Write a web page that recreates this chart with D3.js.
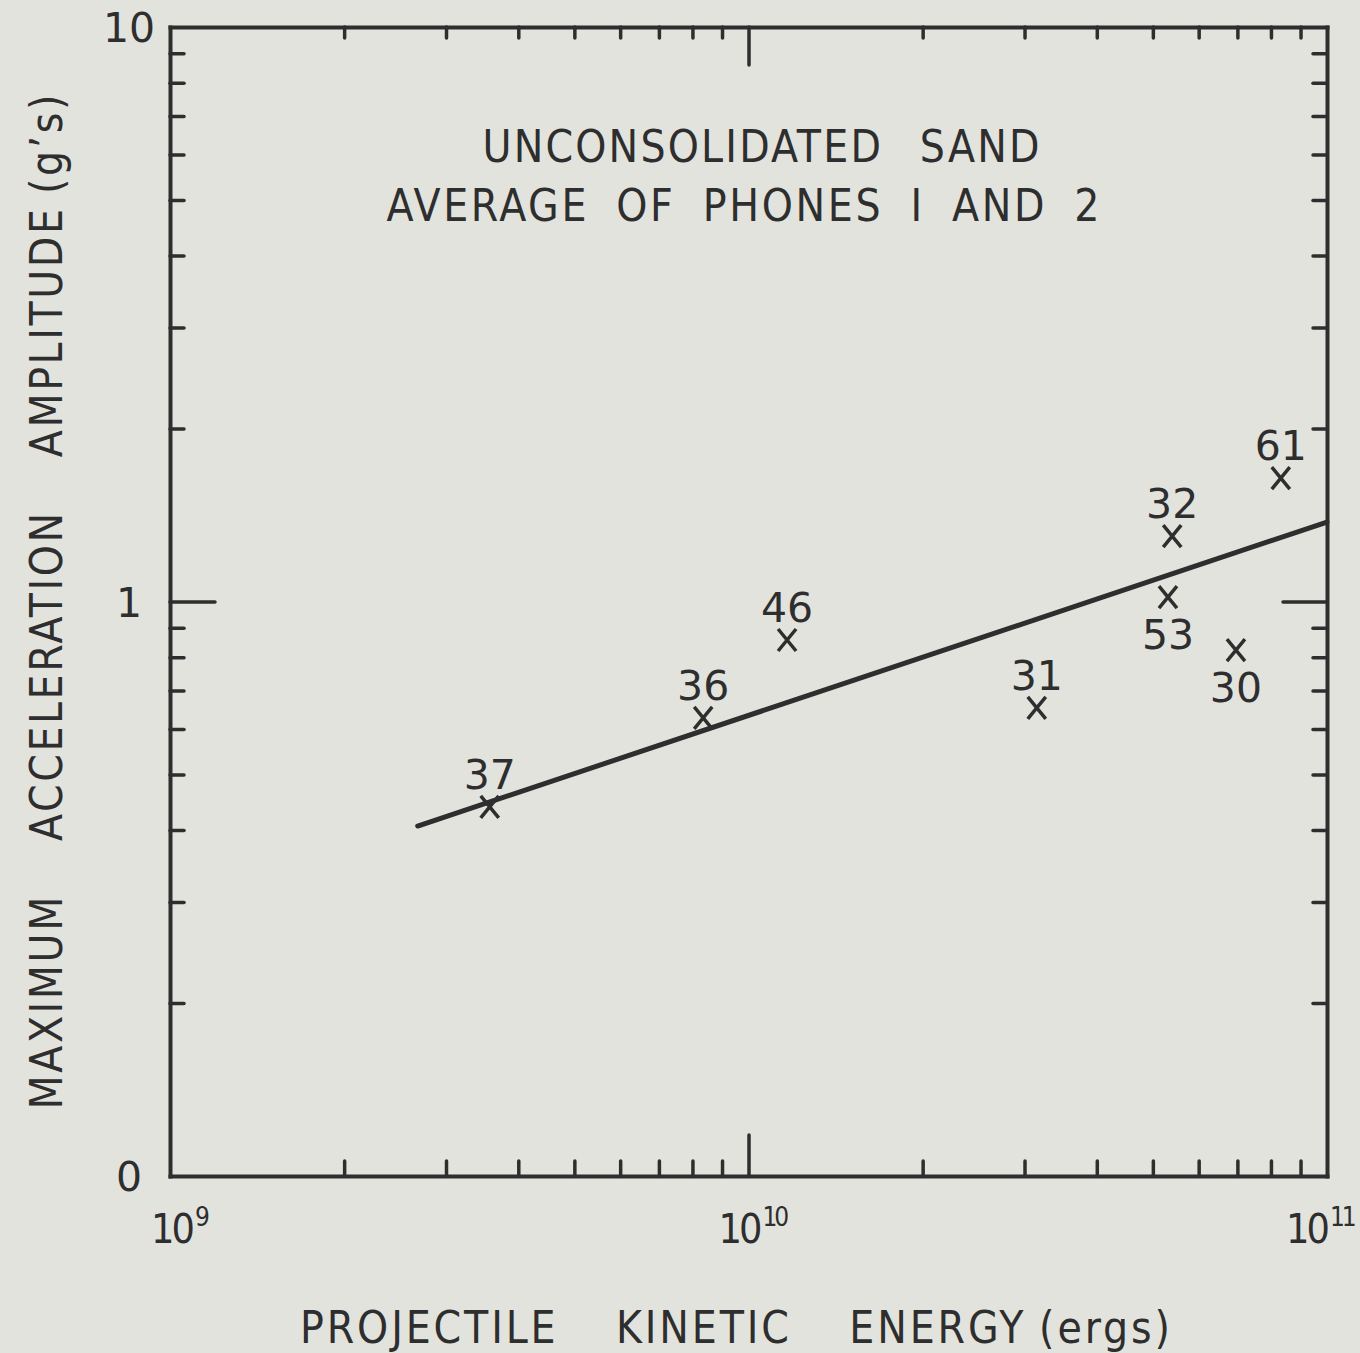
<!DOCTYPE html>
<html>
<head>
<meta charset="utf-8">
<script src="https://cdn.jsdelivr.net/npm/d3@7"></script>
<style>
    body { margin: 0; background: #e3e3de; }
    svg { display: block; }
    text { fill: #2e2e2e; font-family: 'DejaVu Sans', sans-serif; }
    .lettering { font-family: 'DejaVu Sans Condensed', 'DejaVu Sans', sans-serif; }
    .axis path, .axis line { stroke: #2e2e2e; }
</style>
</head>
<body>
<div id="chart"></div>
<script>
// shot numbers with energy (ergs) and peak acceleration (g's)
const shots = ['37', '36', '46', '31', '32', '53', '30', '61'];
const energy = [3.57e9, 8.35e9, 1.166e10, 3.15e10, 5.4e10, 5.31e10, 6.96e10, 8.32e10];
const accel = [0.439, 0.627, 0.857, 0.653, 1.30, 1.018, 0.823, 1.64];

// ends of the fitted line
const fitEnergy = [2.68e9, 1e11];
const fitAccel = [0.4066, 1.375];

// tick labels
const xMajor = [1e9, 1e10, 1e11];
const xExponents = ['9', '10', '11'];
const yMajor = [0.1, 1, 10];
const yLabels = ['0', '1', '10'];

const titleLines = ['UNCONSOLIDATED SAND', 'AVERAGE OF PHONES I AND 2'];
const xTitle = 'PROJECTILE KINETIC ENERGY\u2005(ergs)';
const yTitle = 'MAXIMUM ACCELERATION AMPLITUDE\u2005(g\u2019s)';

class LogLogPlot {

    constructor(_config) {
        this.config = {
            parentElement: _config.parentElement,
            containerWidth: _config.containerWidth || 1360,
            containerHeight: _config.containerHeight || 1353,
            margin: {top: 27, right: 33, bottom: 177, left: 170}
        }
        this.initVis();
    }

    initVis() {
        let vis = this;

        vis.width = vis.config.containerWidth - vis.config.margin.left - vis.config.margin.right;
        vis.height = vis.config.containerHeight - vis.config.margin.top - vis.config.margin.bottom;

        vis.svg = d3.select(vis.config.parentElement).append('svg')
            .attr('width', vis.config.containerWidth)
            .attr('height', vis.config.containerHeight);
        vis.chart = vis.svg.append('g')
            .attr('transform', `translate(${vis.config.margin.left}, ${vis.config.margin.top})`);

        vis.xScale = d3.scaleLog().domain([1e9, 1e11]).range([0, vis.width]);
        vis.yScale = d3.scaleLog().domain([0.1, 10]).range([vis.height, 0]);

        const isMajor = v => Math.abs(Math.log10(v) - Math.round(Math.log10(v))) < 1e-9;
        vis.xMinor = vis.xScale.ticks().filter(v => !isMajor(v));
        vis.yMinor = vis.yScale.ticks().filter(v => !isMajor(v));
    }

    addAxis(axis, transform, keepDomain) {
        let vis = this;
        const g = vis.chart.append('g')
            .attr('class', 'axis')
            .attr('transform', transform)
            .call(axis.tickFormat('').tickSizeOuter(0));
        g.selectAll('.tick line').attr('stroke-width', 3.5).attr('stroke-linecap', 'round');
        if (keepDomain) {
            g.select('.domain').attr('stroke-width', 4).attr('stroke-linecap', 'square');
        } else {
            g.select('.domain').remove();
        }
    }

    renderVis() {
        let vis = this;
        const w = vis.width, h = vis.height;

        // frame with inward ticks on all four sides
        vis.addAxis(d3.axisBottom(vis.xScale).tickValues(vis.xMinor).tickSize(-15), `translate(0,${h})`, true);
        vis.addAxis(d3.axisBottom(vis.xScale).tickValues([1e10]).tickSize(-41), `translate(0,${h})`, false);
        vis.addAxis(d3.axisTop(vis.xScale).tickValues(vis.xMinor).tickSize(-11), 'translate(0,0)', true);
        vis.addAxis(d3.axisTop(vis.xScale).tickValues([1e10]).tickSize(-38), 'translate(0,0)', false);
        vis.addAxis(d3.axisLeft(vis.yScale).tickValues(vis.yMinor).tickSize(-14), 'translate(0,0)', true);
        vis.addAxis(d3.axisLeft(vis.yScale).tickValues([1]).tickSize(-45), 'translate(0,0)', false);
        vis.addAxis(d3.axisRight(vis.yScale).tickValues(vis.yMinor).tickSize(-14), `translate(${w},0)`, true);
        vis.addAxis(d3.axisRight(vis.yScale).tickValues([1]).tickSize(-44), `translate(${w},0)`, false);

        // y tick labels
        vis.chart.selectAll('.ylabel')
            .data(yMajor)
            .join('text')
                .attr('class', 'ylabel')
                .attr('x', -41)
                .attr('y', d => vis.yScale(d) + 15)
                .attr('text-anchor', 'middle')
                .style('font-size', '41px')
                .text((d, i) => yLabels[i]);

        // x tick labels as powers of ten
        const xl = vis.chart.selectAll('.xlabel')
            .data(xMajor)
            .join('text')
                .attr('class', 'xlabel lettering')
                .attr('x', (d, i) => vis.xScale(d) - 19 - 11 * i)
                .attr('y', h + 67)
                .style('font-size', '41px')
                .style('letter-spacing', '-3px');
        xl.append('tspan').text('10');
        xl.append('tspan')
            .attr('dx', 3)
            .attr('dy', -17)
            .style('font-size', '26px')
            .text((d, i) => xExponents[i]);

        // fitted line
        const line = d3.line()
            .x(d => vis.xScale(d[0]))
            .y(d => vis.yScale(d[1]));
        vis.chart.append('path')
            .datum(d3.zip(fitEnergy, fitAccel))
            .attr('d', line)
            .attr('fill', 'none')
            .attr('stroke', '#2e2e2e')
            .attr('stroke-width', 5)
            .attr('stroke-linecap', 'round');

        // data points drawn as crosses
        const points = d3.zip(shots, energy, accel);
        vis.chart.selectAll('.mark')
            .data(points)
            .join('path')
                .attr('class', 'mark')
                .attr('d', d => {
                    const px = vis.xScale(d[1]), py = vis.yScale(d[2]);
                    return `M${px - 9},${py - 11}L${px + 9},${py + 11}M${px + 9},${py - 11}L${px - 9},${py + 11}`;
                })
                .attr('fill', 'none')
                .attr('stroke', '#2e2e2e')
                .attr('stroke-width', 3.5);

        const below = new Set(['53', '30']);
        vis.chart.selectAll('.shot')
            .data(points)
            .join('text')
                .attr('class', 'shot')
                .attr('x', d => vis.xScale(d[1]))
                .attr('y', d => vis.yScale(d[2]) + (below.has(d[0]) ? 52 : -18))
                .attr('text-anchor', 'middle')
                .style('font-size', '41px')
                .text(d => d[0]);

        // title inside the plot
        const titleX = [761 - 170, 743 - 170];
        const titleGap = ['22px', '12px'];
        vis.chart.selectAll('.title')
            .data(titleLines)
            .join('text')
                .attr('class', 'title lettering')
                .attr('x', (d, i) => titleX[i])
                .attr('y', (d, i) => 135 + i * 59)
                .attr('text-anchor', 'middle')
                .attr('textLength', (d, i) => i === 0 ? 557 : 713)
                .attr('lengthAdjust', 'spacing')
                .style('font-size', '44px')
                .style('word-spacing', (d, i) => titleGap[i])
                .text(d => d);

        // axis titles
        vis.svg.append('text')
            .attr('class', 'lettering')
            .attr('x', 735)
            .attr('y', 1343)
            .attr('text-anchor', 'middle')
            .attr('textLength', 870)
            .attr('lengthAdjust', 'spacing')
            .style('font-size', '44px')
            .style('word-spacing', '42px')
            .text(xTitle);

        vis.svg.append('text')
            .attr('class', 'lettering')
            .attr('transform', 'translate(62,602) rotate(-90)')
            .attr('text-anchor', 'middle')
            .attr('textLength', 1015)
            .attr('lengthAdjust', 'spacing')
            .style('font-size', '44px')
            .style('word-spacing', '38px')
            .text(yTitle);
    }
}

const plot = new LogLogPlot({parentElement: '#chart'});
plot.renderVis();
</script>
</body>
</html>
